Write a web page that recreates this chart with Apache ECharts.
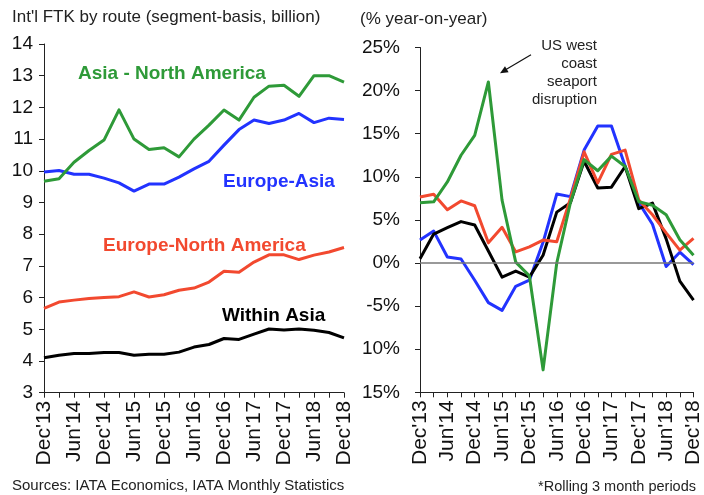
<!DOCTYPE html>
<html>
<head>
<meta charset="utf-8">
<script src="https://cdn.jsdelivr.net/npm/echarts@6/dist/echarts.min.js"></script>
<style>
html,body{margin:0;padding:0;background:#fff;}
#chart{width:704px;height:495px;}
</style>
</head>
<body>
<div id="chart"></div>
<script>
const categories = ["Dec'13","Mar'14","Jun'14","Sep'14","Dec'14","Mar'15","Jun'15","Sep'15","Dec'15","Mar'16","Jun'16","Sep'16","Dec'16","Mar'17","Jun'17","Sep'17","Dec'17","Mar'18","Jun'18","Sep'18","Dec'18"];

// Left panel: Int'l FTK by route (billion)
const ftkAsiaNA     = [9.67, 9.75, 10.27, 10.64, 10.97, 11.92, 11.0, 10.67, 10.73, 10.44, 11.0, 11.44, 11.92, 11.6, 12.32, 12.67, 12.7, 12.35, 13.0, 13.0, 12.8];
const ftkEuropeAsia = [9.96, 10.01, 9.89, 9.89, 9.77, 9.62, 9.36, 9.58, 9.58, 9.8, 10.06, 10.3, 10.81, 11.3, 11.6, 11.49, 11.6, 11.81, 11.52, 11.66, 11.62];
const ftkEuropeNA   = [5.66, 5.86, 5.92, 5.97, 6.0, 6.03, 6.18, 6.02, 6.09, 6.23, 6.3, 6.49, 6.83, 6.8, 7.12, 7.35, 7.35, 7.2, 7.34, 7.44, 7.58];
const ftkWithinAsia = [4.1, 4.18, 4.24, 4.24, 4.27, 4.27, 4.18, 4.21, 4.21, 4.28, 4.44, 4.52, 4.71, 4.68, 4.85, 5.01, 4.98, 5.01, 4.97, 4.9, 4.73];

// Right panel: % year-on-year
const yoyAsiaNA     = [7.0, 7.1, 9.4, 12.5, 14.8, 21.0, 7.3, 0.1, -1.5, -12.4, 0.0, 7.0, 12.0, 10.7, 12.4, 11.2, 7.1, 6.7, 5.6, 2.7, 0.9];
const yoyEuropeAsia = [2.66, 3.7, 0.7, 0.47, -2.0, -4.6, -5.5, -2.7, -2.0, 2.4, 8.0, 7.7, 13.1, 15.9, 15.9, 11.25, 7.0, 4.5, -0.4, 1.25, -0.2];
const yoyEuropeNA   = [7.66, 7.97, 6.17, 7.2, 6.64, 2.34, 4.14, 1.29, 1.88, 2.66, 2.46, 7.5, 12.9, 9.3, 12.6, 13.1, 7.3, 5.6, 3.5, 1.5, 2.85];
const yoyWithinAsia = [0.5, 3.36, 4.1, 4.8, 4.41, 1.4, -1.64, -0.94, -1.64, 0.9, 5.9, 7.0, 11.8, 8.7, 8.8, 11.2, 6.3, 6.95, 2.8, -2.1, -4.3];

const leftTicks = [3, 14, 1];            // min, max, interval
const rightTicks = [-15, 25, 5];
const rightTickLabels = ["15%", "10%", "-5%", "0%", "5%", "10%", "15%", "20%", "25%"];

const C_GREEN = '#2e9a38', C_BLUE = '#2233ff', C_RED = '#f2492f', C_BLACK = '#000000';
const FONT = "'Liberation Sans', Arial, sans-serif";

const chart = echarts.init(document.getElementById('chart'), null, {renderer: 'canvas'});

function xAxisCfg(gi) {
  return {
    gridIndex: gi, type: 'category', data: categories, boundaryGap: false,
    axisLine: {onZero: false, lineStyle: {color: '#222', width: 1}},
    axisTick: {show: true, interval: 0, length: 5, lineStyle: {color: '#222', width: 1}},
    axisLabel: {interval: 1, rotate: 90, fontSize: 21, color: '#111', margin: 8, fontFamily: FONT},
    splitLine: {show: false}
  };
}
function lineSeries(data, color, xi, yi, z) {
  return {
    type: 'line', data: data, xAxisIndex: xi, yAxisIndex: yi,
    symbol: 'none', smooth: false, z: z,
    lineStyle: {color: color, width: 3, join: 'round'},
    emphasis: {disabled: true}
  };
}

const option = {
  animation: false,
  backgroundColor: '#ffffff',
  textStyle: {fontFamily: FONT},
  grid: [
    {left: 44, top: 44, width: 300, height: 348.7},
    {left: 420, top: 47.5, width: 276, height: 344.8}
  ],
  xAxis: [xAxisCfg(0), xAxisCfg(1)],
  yAxis: [
    {
      gridIndex: 0, type: 'value', min: leftTicks[0], max: leftTicks[1], interval: leftTicks[2],
      splitLine: {show: false},
      axisLine: {show: true, lineStyle: {color: '#222', width: 1}},
      axisTick: {show: true, length: 5, lineStyle: {color: '#222'}},
      axisLabel: {fontSize: 19, color: '#111', margin: 11, fontFamily: FONT}
    },
    {
      gridIndex: 1, type: 'value', min: rightTicks[0], max: rightTicks[1], interval: rightTicks[2],
      splitLine: {show: false},
      axisLine: {show: true, lineStyle: {color: '#222', width: 1}},
      axisTick: {show: true, length: 5, lineStyle: {color: '#222'}},
      axisLabel: {
        fontSize: 19, color: '#111', margin: 20, fontFamily: FONT,
        formatter: function (v) {
          const i = Math.round((v - rightTicks[0]) / rightTicks[2]);
          return rightTickLabels[i];
        }
      }
    }
  ],
  series: [
    lineSeries(ftkWithinAsia, C_BLACK, 0, 0, 2),
    lineSeries(ftkEuropeNA, C_RED, 0, 0, 2),
    lineSeries(ftkEuropeAsia, C_BLUE, 0, 0, 2),
    lineSeries(ftkAsiaNA, C_GREEN, 0, 0, 2),
    {
      type: 'line', data: [], xAxisIndex: 1, yAxisIndex: 1, z: 1,
      markLine: {
        silent: true, symbol: 'none', label: {show: false},
        lineStyle: {color: '#777', width: 1.5, type: 'solid'},
        data: [{yAxis: 0}]
      }
    },
    lineSeries(yoyEuropeAsia, C_BLUE, 1, 1, 2),
    lineSeries(yoyWithinAsia, C_BLACK, 1, 1, 2),
    lineSeries(yoyEuropeNA, C_RED, 1, 1, 2),
    lineSeries(yoyAsiaNA, C_GREEN, 1, 1, 2)
  ],
  graphic: [
    {type: 'text', left: 12, top: 9, style: {text: "Int'l FTK by route (segment-basis, billion)", font: "17px " + FONT, fill: '#222'}},
    {type: 'text', left: 360, top: 11, style: {text: "(% year-on-year)", font: "17px " + FONT, fill: '#222'}},
    {type: 'text', x: 78, y: 73.5, style: {text: "Asia - North America", font: "bold 19px " + FONT, fill: C_GREEN, align: 'left', verticalAlign: 'middle'}},
    {type: 'text', x: 223, y: 182, style: {text: "Europe-Asia", font: "bold 19px " + FONT, fill: C_BLUE, align: 'left', verticalAlign: 'middle'}},
    {type: 'text', x: 103, y: 245.5, style: {text: "Europe-North America", font: "bold 19px " + FONT, fill: C_RED, align: 'left', verticalAlign: 'middle'}},
    {type: 'text', x: 222, y: 315.5, style: {text: "Within Asia", font: "bold 19px " + FONT, fill: C_BLACK, align: 'left', verticalAlign: 'middle'}},
    {type: 'text', x: 597, y: 46, style: {text: "US west", font: "15px " + FONT, fill: '#222', align: 'right', verticalAlign: 'middle'}},
    {type: 'text', x: 597, y: 64, style: {text: "coast", font: "15px " + FONT, fill: '#222', align: 'right', verticalAlign: 'middle'}},
    {type: 'text', x: 597, y: 82, style: {text: "seaport", font: "15px " + FONT, fill: '#222', align: 'right', verticalAlign: 'middle'}},
    {type: 'text', x: 597, y: 100, style: {text: "disruption", font: "15px " + FONT, fill: '#222', align: 'right', verticalAlign: 'middle'}},
    {type: 'line', shape: {x1: 531, y1: 54.7, x2: 506, y2: 69.6}, style: {stroke: '#111', lineWidth: 1.2}},
    {type: 'polygon', shape: {points: [[500, 73.3], [508.6, 72.2], [505, 66.2]]}, style: {fill: '#111'}},
    {type: 'text', x: 12, y: 486, style: {text: "Sources: IATA Economics, IATA Monthly Statistics", font: "15px " + FONT, fill: '#222', align: 'left', verticalAlign: 'middle'}},
    {type: 'text', x: 696, y: 487, style: {text: "*Rolling 3 month periods", font: "14.5px " + FONT, fill: '#222', align: 'right', verticalAlign: 'middle'}}
  ]
};
chart.setOption(option);
</script>
</body>
</html>
